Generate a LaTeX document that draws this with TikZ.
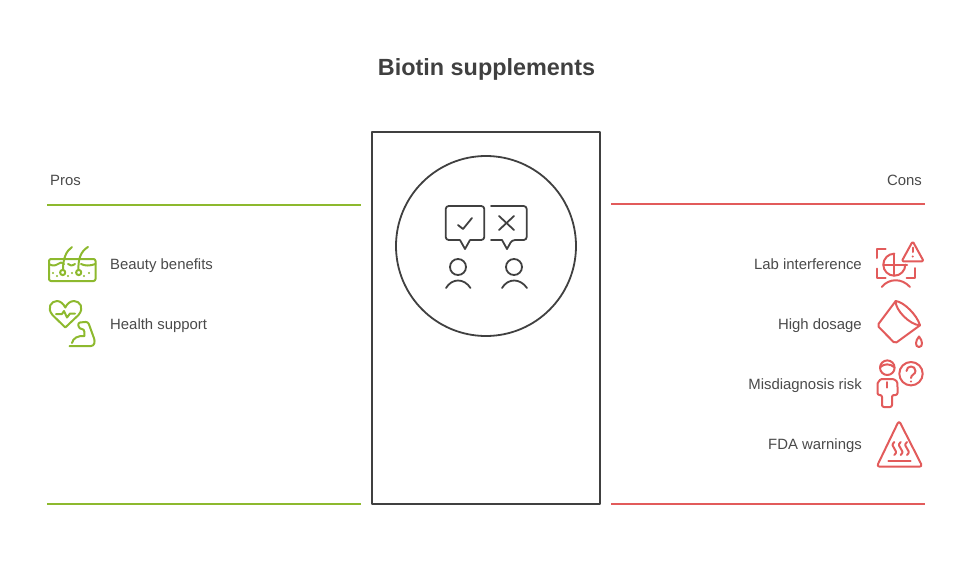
\documentclass[tikz,border=0pt]{standalone}
\usepackage{fontspec}
\setmainfont{Liberation Sans}
\usetikzlibrary{calc}
\definecolor{prosgreen}{HTML}{8DB92E}
\definecolor{consred}{HTML}{E25B5B}
\definecolor{inkdark}{HTML}{404040}
\definecolor{inktext}{HTML}{4A4A4A}
\tikzset{
	greenline/.style={draw=prosgreen, line width=2pt, line cap=round, line join=round},
	redline/.style={draw=consred, line width=2pt, line cap=round, line join=round},
	inkline/.style={draw=inkdark, line width=1.8pt, line cap=round, line join=round},
	itemlabel/.style={text=inktext, font=\fontsize{14.9}{16}\selectfont, inner sep=0pt},
}

\begin{document}
\begin{tikzpicture}[x=1pt, y=-1pt]
	\useasboundingbox (0, 0) rectangle (972, 576);

	%%%%% TITLE %%%%%
	\node[text=inkdark, anchor=base, font=\fontsize{23.4}{28}\bfseries\selectfont] (title) at (486.5, 75) {Biotin supplements};

	%%%%% PANEL %%%%%
	\draw[inkline, line cap=butt] (372, 132) rectangle (600, 504);
	\draw[inkline] (486, 246) circle (90);

	\draw[inkline, rounded corners=3] (445.7, 206) rectangle (484.3, 240);
	\fill[white] (460, 239) rectangle (470, 241);
	\draw[inkline] (460, 240) -- (465, 249) -- (470, 240);
	\draw[inkline] (458, 225) -- (463, 229) -- (472, 218);

	\draw[inkline, rounded corners=3] (491, 206) -- (526.7, 206) -- (526.7, 240) -- (512, 240) -- (507, 249);
	\draw[inkline] (507, 249) -- (502, 240) -- (491, 240);
	\draw[inkline] (499, 216) -- (514, 230);
	\draw[inkline] (514, 216) -- (499, 230);

	\draw[inkline] (458, 267) circle (8);
	\draw[inkline] (446, 288) .. controls (452, 278) and (464, 278) .. (470.5, 288);
	\draw[inkline] (514, 267) circle (8);
	\draw[inkline] (502, 288) .. controls (508, 278) and (520, 278) .. (527, 288);

	%%%%% PROS %%%%%
	\node[itemlabel, anchor=base west] (pros) at (50, 185) {Pros};
	\draw[greenline, line cap=butt] (47, 205) -- (361, 205);
	\draw[greenline, line cap=butt] (47, 504) -- (361, 504);

	\node[itemlabel, anchor=base west] (beauty) at (110, 269) {Beauty benefits};
	\node[itemlabel, anchor=base west] (health) at (110, 329) {Health support};

	\draw[greenline, rounded corners=2] (49, 259) rectangle (95.5, 281);
	\draw[greenline] (49, 264) .. controls (52, 266) and (55, 266) .. (58, 264) .. controls (60, 262) and (62, 262) .. (64, 264);
	\draw[greenline] (68, 264) .. controls (70, 266) and (72, 266) .. (75, 264);
	\draw[greenline] (81, 264) .. controls (85, 266) and (90, 266) .. (95.5, 264);
	\draw[greenline] (63, 269.5) .. controls (63, 259) and (66, 251) .. (72, 247);
	\draw[greenline] (78.5, 269.5) .. controls (78, 259) and (81, 251) .. (88, 247);
	\draw[greenline] (62.7, 272.5) circle (2.6);
	\draw[greenline] (78.7, 272.5) circle (2.6);
	\foreach \dotx/\doty in {53/273, 57/276, 68/276, 72/273, 84/276, 89/273} {
		\fill[prosgreen] (\dotx, \doty) circle (1.2);
	}

	\draw[greenline] (65.3, 327.5) -- (52.5, 315) .. controls (46.5, 308) and (51, 301) .. (57, 301) .. controls (60.5, 301) and (63.5, 304) .. (65.3, 307.5) .. controls (67, 304) and (70, 301) .. (74, 301) .. controls (80, 301) and (84.5, 308) .. (78.5, 315) -- cycle;
	\draw[greenline] (56, 314) -- (62, 314) -- (64, 311) -- (67, 317.5) -- (70, 313.5) -- (75, 313.5);
	\draw[greenline, rounded corners=2.5] (69.5, 346) -- (93.5, 346) -- (95, 341) -- (88, 321.7) -- (77.7, 322.7) -- (79.3, 329) -- (84.3, 329) -- (84.3, 336);
	\draw[greenline] (84.3, 336) .. controls (78, 335.5) and (73, 338) .. (72, 343);

	%%%%% CONS %%%%%
	\node[itemlabel, anchor=base east] (cons) at (922, 185) {Cons};
	\draw[redline, line cap=butt] (611, 204) -- (925, 204);
	\draw[redline, line cap=butt] (611, 504) -- (925, 504);

	\node[itemlabel, anchor=base east] (lab) at (862, 269) {Lab interference};
	\node[itemlabel, anchor=base east] (dosage) at (862, 329) {High dosage};
	\node[itemlabel, anchor=base east] (misdiagnosis) at (862, 389) {Misdiagnosis risk};
	\node[itemlabel, anchor=base east] (fda) at (862, 449) {FDA warnings};

	\draw[redline, rounded corners=1.5] (912.7, 241.3) -- (901.7, 261.3) -- (923.7, 261.3) -- cycle;
	\draw[redline] (912.7, 247.5) -- (912.7, 252);
	\fill[consred] (912.7, 256.5) circle (1.2);
	\draw[redline] (885.7, 249.3) -- (877.3, 249.3) -- (877.3, 258);
	\draw[redline] (877.3, 268.7) -- (877.3, 278) -- (885.7, 278);
	\draw[redline] (906.7, 278) -- (915, 278) -- (915, 268);
	\draw[redline] (894.3, 253.7) arc (270:90:11) arc (90:0:11);
	\draw[redline] (883.3, 264.7) -- (907, 264.7);
	\draw[redline] (894.3, 253.7) -- (894.3, 275.7);
	\draw[redline] (881.7, 287) .. controls (889, 278) and (902, 278) .. (910, 287);

	\draw[redline, rounded corners=2] (895.7, 301) -- (877.3, 325.5) -- (895, 343.5) -- (920, 325.3);
	\draw[redline] (895.7, 301) .. controls (904, 302) and (917, 315) .. (920, 325.3);
	\draw[redline] (895.7, 301) .. controls (895, 310) and (910, 325) .. (920, 325.3);
	\draw[redline] (919, 336.5) .. controls (915, 341) and (915, 347) .. (919, 347) .. controls (923, 347) and (923, 341) .. (919, 336.5);

	\draw[redline] (887.3, 367.7) circle (7.3);
	\draw[redline] (880.5, 367) .. controls (884, 363.5) and (890, 363.5) .. (894, 367);
	\draw[redline] (911, 373.7) circle (11.7);
	\draw[redline] (906.5, 371) .. controls (906.5, 365) and (915.5, 365) .. (915.5, 371) .. controls (915.5, 374.5) and (911, 374.5) .. (911, 378);
	\fill[consred] (911, 381.5) circle (1.2);
	\draw[redline, rounded corners=2] (882, 407) -- (882, 395) -- (877.5, 395) -- (877.5, 385) .. controls (878, 380) and (882, 379) .. (884, 379) -- (890, 379) .. controls (893, 379) and (897, 380) .. (897.5, 385) -- (897.5, 395) -- (892, 395) -- (892, 407) -- cycle;
	\draw[redline] (887.3, 382) -- (887.3, 387.7);

	\draw[redline, rounded corners=3] (899, 420.5) -- (876.7, 466.7) -- (922.5, 466.7) -- cycle;
	\draw[redline] (888.3, 460.7) -- (910.7, 460.7);
	\foreach \wavex in {894.3, 900.7, 907} {
		\draw[redline] (\wavex, 442) .. controls (\wavex-6, 447) and (\wavex+6, 450) .. (\wavex, 455);
	}
\end{tikzpicture}
\end{document}
